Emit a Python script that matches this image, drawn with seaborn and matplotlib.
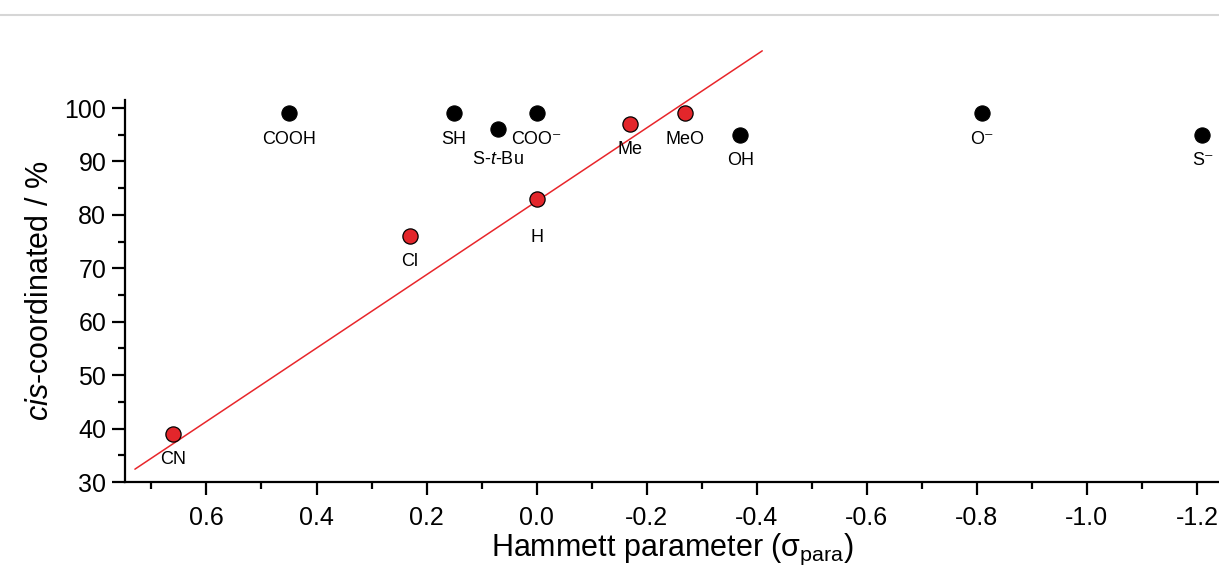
import numpy as np
import pandas as pd
import matplotlib
matplotlib.use("Agg")
import matplotlib.pyplot as plt
from matplotlib.lines import Line2D
from matplotlib.ticker import MultipleLocator, FormatStrFormatter
import seaborn as sns

# ---------- data ----------
black_labels = ["COOH", "SH", "S-$\\mathit{t}$-Bu", "COO\u207b", "OH", "O\u207b", "S\u207b"]
black_sigma = [0.45, 0.15, 0.07, 0.0, -0.37, -0.81, -1.21]
black_cis = [99, 99, 96, 99, 95, 99, 95]

red_labels = ["CN", "Cl", "H", "Me", "MeO"]
red_sigma = [0.66, 0.23, 0.0, -0.17, -0.27]
red_cis = [39, 76, 83, 97, 99]

# linear fit as drawn (end points)
fit_sigma = [0.73, -0.41]
fit_cis = [32.4, 110.7]

# label offsets below the point (points)
label_drop = {"H": 28, "S-$\\mathit{t}$-Bu": 22}

sns.set_style("ticks")
plt.rcParams.update({
    "font.family": ["Liberation Sans", "DejaVu Sans"],
    "mathtext.fontset": "custom",
    "mathtext.rm": "Liberation Sans",
    "mathtext.it": "Liberation Sans:italic",
    "axes.unicode_minus": False,
    "axes.linewidth": 1.6,
    "axes.edgecolor": "black",
    "axes.labelcolor": "black",
    "text.color": "black",
    "xtick.color": "black",
    "ytick.color": "black",
})

black = pd.DataFrame({"sigma": black_sigma, "cis": black_cis, "label": black_labels})
red = pd.DataFrame({"sigma": red_sigma, "cis": red_cis, "label": red_labels})
fit = pd.DataFrame({"sigma": fit_sigma, "cis": fit_cis})

fig = plt.figure(figsize=(12.19, 5.70), dpi=100)
ax = fig.add_axes([125 / 1219, 1 - 482 / 570, 1 - 125 / 1219, (482 - 100) / 570])

sns.lineplot(data=fit, x="sigma", y="cis", ax=ax, color="#e8262b", linewidth=1.1,
             sort=False, clip_on=False, zorder=2)
sns.scatterplot(data=black, x="sigma", y="cis", ax=ax, color="black", s=120,
                edgecolor="black", linewidth=0.8, zorder=3)
sns.scatterplot(data=red, x="sigma", y="cis", ax=ax, color="#e3262b", s=120,
                edgecolor="black", linewidth=0.9, zorder=4)

for df in (black, red):
    for _, r in df.iterrows():
        ax.annotate(r["label"], (r["sigma"], r["cis"]), xytext=(0, -label_drop.get(r["label"], 18.5)),
                    textcoords="offset points", ha="center", va="center", fontsize=13,
                    annotation_clip=False)

ax.set_xlim(0.748, -1.24)
ax.set_ylim(30, 101.5)
ax.xaxis.set_major_locator(MultipleLocator(0.2))
ax.xaxis.set_minor_locator(MultipleLocator(0.1))
ax.yaxis.set_major_locator(MultipleLocator(10))
ax.yaxis.set_minor_locator(MultipleLocator(5))
ax.xaxis.set_major_formatter(FormatStrFormatter("%.1f"))
ax.tick_params(which="major", length=9.5, width=1.6, labelsize=18, direction="out", pad=4)
ax.tick_params(axis="x", which="major", pad=8)
ax.tick_params(which="minor", length=5, width=1.6, direction="out")
sns.despine(ax=ax)

ax.set_xlabel("Hammett parameter ($\\mathrm{\\sigma_{para}}$)", fontsize=22, labelpad=1)
ax.set_ylabel("$\\mathit{cis}$-coordinated / %", fontsize=22, labelpad=7)

fig.add_artist(Line2D([0, 1], [1 - 14.5 / 570] * 2, color="#d6d6d6", linewidth=1.5,
                      transform=fig.transFigure))

fig.savefig("out.png", dpi=100)
